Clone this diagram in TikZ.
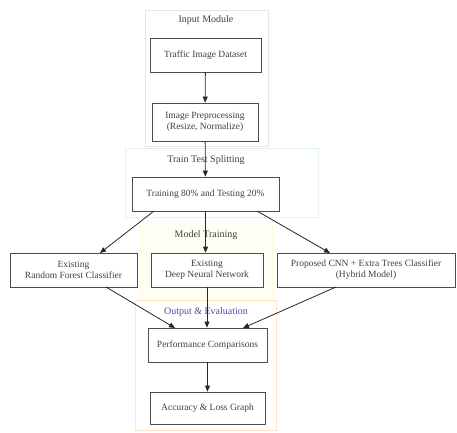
\documentclass[tikz,border=0pt]{standalone}
\usepackage{fontspec}
\setmainfont{Liberation Serif}
\usetikzlibrary{arrows.meta}
\begin{document}
\begin{tikzpicture}[x=1pt,y=-1pt,
  box/.style={draw=black!70,line width=0.8pt,fill=white,align=center,font=\fontsize{9.5}{11}\selectfont,text=black!75,inner sep=2pt},
  arr/.style={-{Triangle[length=6pt,width=5pt]},line width=0.8pt,draw=black!85},
  clab/.style={font=\fontsize{10}{12}\selectfont,text=black!75}]
\useasboundingbox (0,0) rectangle (457,432);
% clusters
\draw[draw=black!10,line width=0.6pt] (145,10) rectangle (268,146);
\node[clab] (lin) at (206,20) {Input Module};
\draw[draw=teal!10,line width=0.6pt] (125,148) rectangle (318,217);
\node[clab] (ltt) at (206,160) {Train Test Splitting};
\fill[yellow!4] (140,221) rectangle (272,298);
\draw[draw=yellow!15,line width=0.6pt] (140,221) rectangle (272,298);
\node[clab] (lmt) at (206,235) {Model Training};
\draw[draw=orange!20,line width=0.6pt] (135,300) rectangle (276,430);
\node[clab,text=blue!45!black!70] (lout) at (206,312) {Output \& Evaluation};
% nodes
\node[box,minimum width=111pt,minimum height=34pt] (ds) at (205.5,55) {Traffic Image Dataset};
\node[box,minimum width=106pt,minimum height=38pt] (pre) at (205,122) {Image Preprocessing\\(Resize, Normalize)};
\node[box,minimum width=147pt,minimum height=34pt] (split) at (205.5,194) {Training 80\% and Testing 20\%};
\node[box,minimum width=127pt,minimum height=34pt] (rf) at (73.5,270) {Existing\\Random Forest Classifier};
\node[box,minimum width=112pt,minimum height=34pt] (dnn) at (207,270) {Existing\\Deep Neural Network};
\node[box,minimum width=178pt,minimum height=34pt] (hyb) at (366,270) {Proposed CNN + Extra Trees Classifier\\(Hybrid Model)};
\node[box,minimum width=119pt,minimum height=34pt] (perf) at (207.5,345) {Performance Comparisons};
\node[box,minimum width=115pt,minimum height=32pt] (acc) at (207.5,408) {Accuracy \& Loss Graph};
% edge endpoints
\coordinate (s1) at (154,211);
\coordinate (t1) at (100,253);
\coordinate (s3) at (257,211);
\coordinate (t3) at (330,253);
\coordinate (r1) at (106,287);
\coordinate (p1) at (175,328);
\coordinate (h1) at (336,287);
\coordinate (p3) at (243,328);
% edges
\draw[arr] (ds) -- (pre);
\draw[arr] (pre) -- (split);
\draw[arr] (s1) -- (t1);
\draw[arr] (split.south) -- (split.south |- dnn.north);
\draw[arr] (s3) -- (t3);
\draw[arr] (r1) -- (p1);
\draw[arr] (dnn.south) -- (dnn.south |- perf.north);
\draw[arr] (h1) -- (p3);
\draw[arr] (perf) -- (acc);
\end{tikzpicture}
\end{document}
